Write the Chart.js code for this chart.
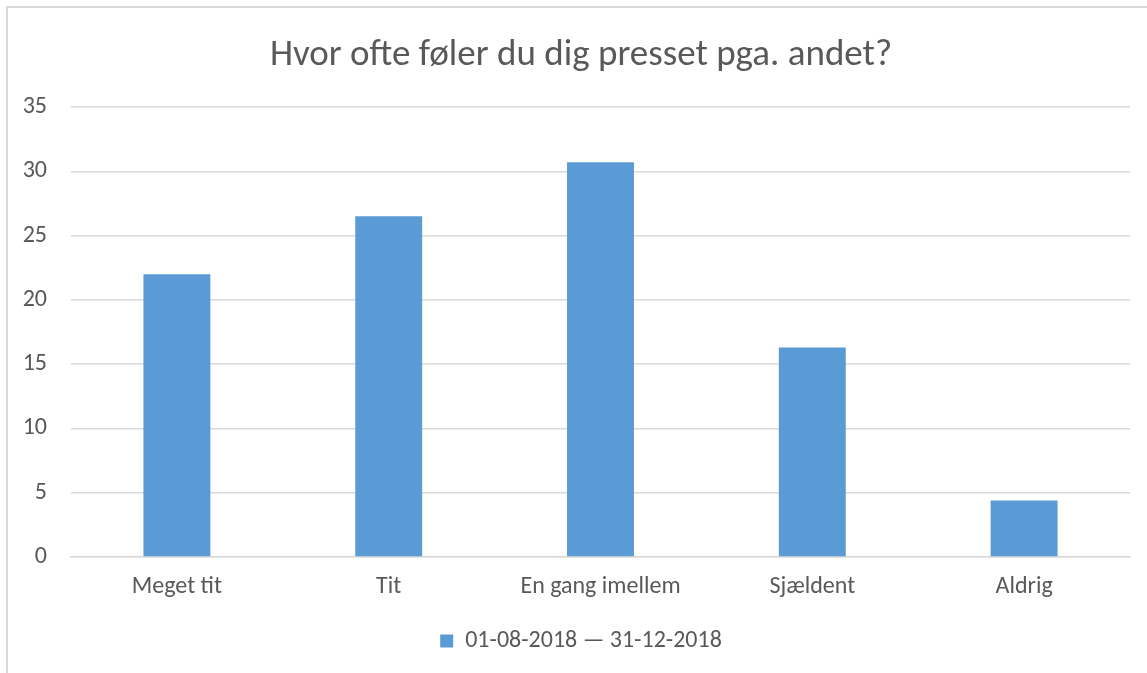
<!DOCTYPE html>
<html>
<head>
<meta charset="utf-8">
<script src="https://cdn.jsdelivr.net/npm/chart.js@4.4.1/dist/chart.umd.min.js"></script>
<style>
  html, body { margin: 0; padding: 0; background: #ffffff; }
  #wrap { width: 1147px; height: 673px; position: relative; }
</style>
</head>
<body>
<div id="wrap"><canvas id="chart" width="1147" height="673"></canvas></div>
<script>
// Survey answers: "How often do you feel pressured because of other things?"
const categories = ['Meget tit', 'Tit', 'En gang imellem', 'Sjældent', 'Aldrig'];
const seriesLabel = '01-08-2018 — 31-12-2018';
const seriesValues = [22.0, 26.5, 30.7, 16.3, 4.4];
const yTicks = [0, 5, 10, 15, 20, 25, 30, 35];
const chartTitle = 'Hvor ofte føler du dig presset pga. andet?';

const FONT = 'Carlito, Calibri, Lato, sans-serif';
const TEXT = '#595959';
const GRID = '#d9d9d9';

// White page plus the thin frame along the top and left edge
const framePlugin = {
  id: 'frame',
  beforeDraw(chart) {
    const ctx = chart.ctx;
    ctx.save();
    ctx.fillStyle = '#ffffff';
    ctx.fillRect(0, 0, chart.width, chart.height);
    ctx.strokeStyle = GRID;
    ctx.lineWidth = 2;
    ctx.beginPath();
    ctx.moveTo(7, chart.height);
    ctx.lineTo(7, 7);
    ctx.lineTo(chart.width, 7);
    ctx.stroke();
    ctx.restore();
  }
};

// Center the title and legend on the framed area rather than the canvas
const centerPlugin = {
  id: 'centerOnFrame',
  afterLayout(chart) {
    const shift = 6;
    [chart.titleBlock, chart.legend].forEach(box => {
      if (box) { box.left += shift; box.right += shift; }
    });
  }
};

new Chart(document.getElementById('chart'), {
  type: 'bar',
  data: {
    labels: categories,
    datasets: [{
      label: seriesLabel,
      data: seriesValues,
      backgroundColor: '#5b9bd5',
      borderWidth: 0,
      barPercentage: 0.316,
      categoryPercentage: 1.0
    }]
  },
  options: {
    responsive: false,
    animation: false,
    layout: { padding: { left: 20, right: 17, top: 0, bottom: 10 } },
    plugins: {
      title: {
        display: true,
        text: chartTitle,
        color: TEXT,
        font: { family: FONT, size: 37, weight: 'normal' },
        padding: { top: 34, bottom: 28.6 }
      },
      legend: {
        display: true,
        position: 'bottom',
        labels: {
          color: TEXT,
          font: { family: FONT, size: 24 },
          boxWidth: 13,
          boxHeight: 13,
          padding: 10
        }
      },
      tooltip: { enabled: false }
    },
    scales: {
      x: {
        grid: { display: false, drawTicks: false },
        border: { display: true, color: GRID, width: 1.5 },
        ticks: { color: TEXT, font: { family: FONT, size: 24 }, padding: 15.6, maxRotation: 0 },
        afterFit(scale) { scale.height = 62; }
      },
      y: {
        min: 0,
        max: 35,
        afterBuildTicks(scale) { scale.ticks = yTicks.map(v => ({ value: v })); },
        grid: { color: GRID, lineWidth: 1.5, drawTicks: false },
        border: { display: false },
        ticks: { color: TEXT, font: { family: FONT, size: 24 }, padding: 24 },
        afterFit(scale) { scale.width = 51; }
      }
    }
  },
  plugins: [framePlugin, centerPlugin]
});
</script>
</body>
</html>
